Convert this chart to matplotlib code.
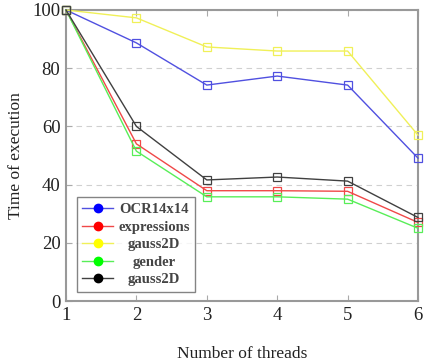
import matplotlib
matplotlib.use('Agg')
from matplotlib import pyplot as plt
from matplotlib.lines import Line2D

# data
threads = [1, 2, 3, 4, 5, 6]
ocr = [100, 88.7, 74.2, 77.3, 74.2, 49.1]
expressions = [100, 54, 37.9, 37.9, 37.7, 27.0]
gauss2d_a = [100, 97.3, 87.3, 85.9, 85.9, 57.0]
gender = [100, 51.5, 35.8, 35.8, 35.0, 25.0]
gauss2d_b = [100, 60, 41.6, 42.6, 41.2, 28.7]

labels = ['OCR14x14', 'expressions', 'gauss2D', 'gender', 'gauss2D']
line_colors = ['#5050e0', '#f04848', '#f0f058', '#58ee58', '#404040']
dot_colors = ['#0000ff', '#ff0000', '#ffff00', '#00ff00', '#000000']
series = [ocr, expressions, gauss2d_a, gender, gauss2d_b]

plt.rcParams['font.family'] = ['Liberation Serif', 'DejaVu Serif']

fig = plt.figure(figsize=(4.27, 3.64), dpi=100)
ax = fig.add_axes([66 / 427, 63 / 364, 352 / 427, 291 / 364])

for ys, c in zip(series, line_colors):
    ax.plot(threads, ys, color=c, lw=1.0, marker='s', markersize=6,
            markerfacecolor='none', markeredgecolor=c, markeredgewidth=0.9,
            clip_on=False, zorder=3)

ax.set_xlim(1, 6)
ax.set_ylim(0, 100)
ax.set_xticks(threads)
ax.set_yticks([0, 20, 40, 60, 80, 100])
ax.tick_params(direction='in', length=4, color='#aaaaaa', labelsize=13.5,
               top=True, labelcolor='#222222', pad=4)
ax.yaxis.grid(True, linestyle=(0, (5, 4)), color='#d0d0d0', lw=0.8)
for s in ax.spines.values():
    s.set_color('#999999')
    s.set_linewidth(1.5)

ax.set_xlabel('Number of threads', fontsize=12.5, labelpad=16, color='#222222')
ax.set_ylabel('Time of execution', fontsize=12.5, labelpad=6, color='#222222')

handles = [Line2D([], [], color=lc, lw=1.0, marker='o', markersize=6,
                  markerfacecolor=dc, markeredgecolor=dc)
           for lc, dc in zip(line_colors, dot_colors)]
leg = ax.legend(handles, labels, loc='lower left', bbox_to_anchor=(0.03, 0.03),
                prop={'size': 10.5, 'weight': 'bold'}, frameon=True,
                fancybox=False, edgecolor='#666666',
                handlelength=2.1, labelspacing=0.3, borderpad=0.4,
                handletextpad=0.35, borderaxespad=0)
leg.get_frame().set_linewidth(1.0)
for t in leg.get_texts():
    t.set_color('#444444')

# centre the legend labels in their column
fig.canvas.draw()
widths = [t.get_window_extent().width for t in leg.get_texts()]
for t, w in zip(leg.get_texts(), widths):
    t.set_x((max(widths) - w) / 2)

fig.savefig('out.png', dpi=100)
